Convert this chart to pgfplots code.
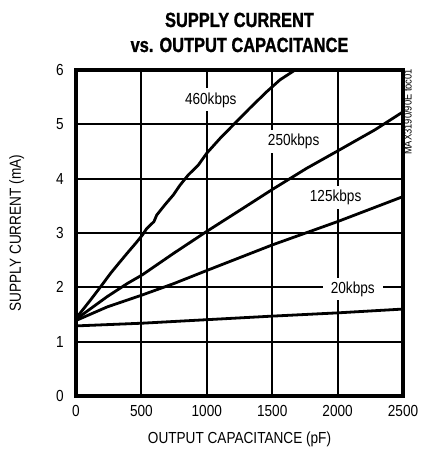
\documentclass[border=0pt]{standalone}
\usepackage{fontspec}
\setmainfont{Liberation Sans}[FakeStretch=0.85]
\newfontfamily\titlefont{Liberation Sans}[FakeStretch=0.80, FakeBold=1.2]
\usepackage{pgfplots}
\pgfplotsset{compat=1.18}

\begin{document}
\begin{tikzpicture}
\begin{axis}[
    at={(0,0)}, anchor=south west,
    scale only axis, width=327pt, height=326pt,
    xmin=0, xmax=2500, ymin=0, ymax=6,
    xtick={0,500,...,2500}, ytick={0,1,...,6},
    tick style={draw=none},
    grid=major,
    grid style={draw=black, line width=2pt},
    axis line style={line width=3.2pt},
    /pgf/number format/assume math mode=true,
    /pgf/number format/1000 sep={},
    tick label style={font=\fontsize{16}{19}\selectfont, inner sep=0pt},
    xticklabel style={yshift=-9pt},
    yticklabel style={xshift=-12pt},
  ]
  % 460kbps
  \addplot[black, line width=2.8pt, line join=round] coordinates {
    (0,1.45) (10,1.46) (112,1.77) (188,2.01) (265,2.26) (316,2.41) (392,2.63)
    (456,2.81) (507,2.96) (540,3.08) (596,3.21) (617,3.33) (680,3.52) (744,3.70)
    (795,3.88) (859,4.07) (935,4.25) (1000,4.47) (1101,4.74) (1215,5.02)
    (1330,5.30) (1458,5.60) (1560,5.82) (1675,6.0)
  };
  % 250kbps
  \addplot[black, line width=2.8pt, line join=round] coordinates {
    (0,1.42) (10,1.43) (239,1.83) (392,2.07) (507,2.23) (749,2.63) (1000,3.03)
    (1254,3.42) (1500,3.80) (1763,4.19) (2000,4.51) (2286,4.90) (2500,5.23)
  };
  % 125kbps
  \addplot[black, line width=2.8pt, line join=round] coordinates {
    (0,1.39) (10,1.40) (239,1.64) (507,1.86) (749,2.07) (1000,2.31)
    (1500,2.78) (2000,3.21) (2500,3.67)
  };
  % 20kbps
  \addplot[black, line width=2.8pt, line join=round] coordinates {
    (0,1.29) (507,1.34) (1042,1.41) (1500,1.47) (2000,1.53) (2500,1.60)
  };
  \node[fill=white, inner xsep=5pt, inner ysep=4pt, font=\fontsize{16}{19}\selectfont] at (axis cs:1030,5.45) {460kbps};
  \node[fill=white, inner xsep=5pt, inner ysep=4pt, font=\fontsize{16}{19}\selectfont] at (axis cs:1664,4.69) {250kbps};
  \node[fill=white, inner xsep=5pt, inner ysep=4pt, font=\fontsize{16}{19}\selectfont] at (axis cs:1985,3.66) {125kbps};
  \node[fill=white, inner xsep=8pt, inner ysep=4pt, font=\fontsize{16}{19}\selectfont] at (axis cs:2116,1.97) {20kbps};
\end{axis}
\node[anchor=base, font=\titlefont\bfseries\fontsize{20.5}{24}\selectfont] at (163.5pt,369pt) {SUPPLY CURRENT};
\node[anchor=base, font=\titlefont\bfseries\fontsize{20.5}{24}\selectfont] at (163.5pt,344pt) {vs. OUTPUT CAPACITANCE};
\node[anchor=base, inner sep=0pt, font=\fontsize{16}{19}\selectfont] at (163.5pt,-47pt) {OUTPUT CAPACITANCE (pF)};
\node[anchor=base, rotate=90, inner sep=0pt, font=\fontsize{16}{19}\selectfont] at (-55pt,163pt) {SUPPLY CURRENT (mA)};
\node[anchor=base west, rotate=90, inner sep=0pt, font=\fontsize{11}{13}\selectfont] at (335.5pt,241pt) {MAX3190/90E toc01};
\pgfresetboundingbox
\useasboundingbox (-76pt,-61pt) rectangle (345pt,396pt);
\end{tikzpicture}
\end{document}
